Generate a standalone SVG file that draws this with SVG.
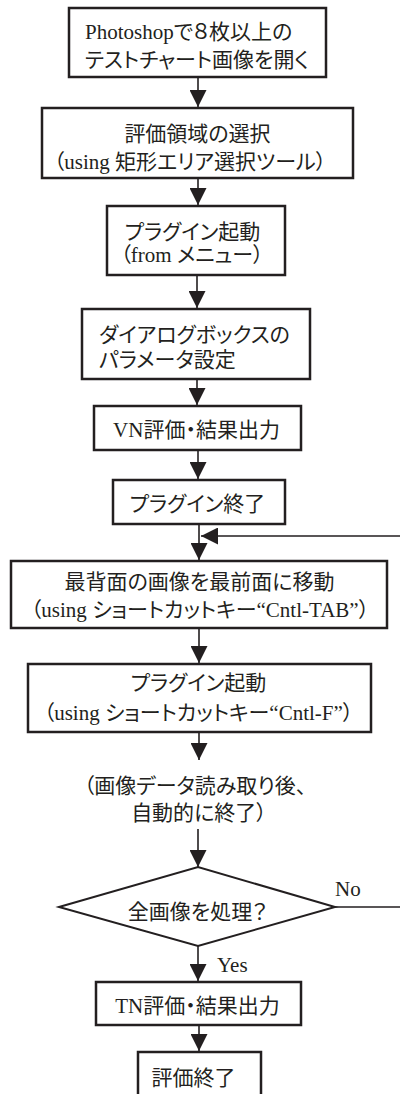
<svg xmlns="http://www.w3.org/2000/svg" width="400" height="1094" viewBox="0 0 400 1094">
<style>
.box{fill:#fff;stroke:#231f20;stroke-width:2.5}
.dia{fill:#fff;stroke:#231f20;stroke-width:2}
.con{fill:none;stroke:#231f20;stroke-width:1.6}
.t{font-family:"Liberation Serif","Noto Sans CJK JP",serif;font-size:21px;fill:#231f20;font-feature-settings:"palt" 1}
.m{text-anchor:middle}
</style>
<defs>
<marker id="ah" markerUnits="userSpaceOnUse" markerWidth="17" markerHeight="17" refX="17" refY="8.5" orient="auto">
<path d="M0,0 L17,8.5 L0,17 z" fill="#231f20"/>
</marker>
</defs>
<rect width="400" height="1094" fill="#fff"/>
<g id="connectors">
<line class="con" x1="198" y1="78" x2="198" y2="107" marker-end="url(#ah)"/>
<line class="con" x1="198" y1="179" x2="198" y2="205" marker-end="url(#ah)"/>
<line class="con" x1="197" y1="276" x2="197" y2="308" marker-end="url(#ah)"/>
<line class="con" x1="197" y1="380" x2="197" y2="405" marker-end="url(#ah)"/>
<line class="con" x1="198" y1="451" x2="198" y2="479" marker-end="url(#ah)"/>
<line class="con" x1="199" y1="525" x2="199" y2="560" marker-end="url(#ah)"/>
<line class="con" x1="199" y1="629" x2="199" y2="663" marker-end="url(#ah)"/>
<line class="con" x1="199" y1="733" x2="199" y2="760" marker-end="url(#ah)"/>
<line class="con" x1="198" y1="829" x2="198" y2="867" marker-end="url(#ah)"/>
<line class="con" x1="198" y1="946" x2="198" y2="981" marker-end="url(#ah)"/>
<line class="con" x1="199" y1="1026" x2="199" y2="1051" marker-end="url(#ah)"/>
<path class="con" d="M335,907 H403 V536 H201" marker-end="url(#ah)"/>
<text class="t" x="335" y="896">No</text>
<text class="t" x="217" y="972">Yes</text>
</g>
<g id="n1"><rect class="box" x="69" y="8" width="257" height="69"/>
<text class="t" x="85" y="39">Photoshopで８枚以上の</text>
<text class="t" x="85" y="67">テストチャート画像を開く</text></g>
<g id="n2"><rect class="box" x="42" y="108" width="311" height="70"/>
<text class="t m" x="197.5" y="141">評価領域の選択</text>
<text class="t m" x="190" y="169">（using 矩形エリア選択ツール）</text></g>
<g id="n3"><rect class="box" x="107" y="206" width="178" height="69"/>
<text class="t m" x="192.5" y="239">プラグイン起動</text>
<text class="t m" x="192" y="262">（from メニュー）</text></g>
<g id="n4"><rect class="box" x="82" y="309" width="228" height="70"/>
<text class="t" x="99" y="342">ダイアログボックスの</text>
<text class="t" x="99" y="367">パラメータ設定</text></g>
<g id="n5"><rect class="box" x="94" y="406" width="207" height="44"/>
<text class="t m" x="196.5" y="437">VN評価・結果出力</text></g>
<g id="n6"><rect class="box" x="113" y="480" width="172" height="44"/>
<text class="t m" x="197.5" y="511">プラグイン終了</text></g>
<g id="n7"><rect class="box" x="11" y="561" width="376" height="67"/>
<text class="t m" x="199.5" y="589">最背面の画像を最前面に移動</text>
<text class="t m" x="200" y="617">（using ショートカットキー“Cntl-TAB”）</text></g>
<g id="n8"><rect class="box" x="28" y="664" width="343" height="68"/>
<text class="t m" x="198.5" y="690">プラグイン起動</text>
<text class="t m" x="198.5" y="720">（using ショートカットキー“Cntl-F”）</text></g>
<g id="n9">
<text class="t m" x="195" y="793">（画像データ読み取り後、</text>
<text class="t m" x="199" y="820">自動的に終了）</text></g>
<g id="n10"><polygon class="dia" points="59,907 198,867 335,907 198,946"/>
<text class="t m" x="197.5" y="919">全画像を処理？</text></g>
<g id="n11"><rect class="box" x="96" y="982" width="205" height="43"/>
<text class="t m" x="197.5" y="1013">TN評価・結果出力</text></g>
<g id="n12"><rect class="box" x="138" y="1052" width="123" height="60"/>
<text class="t m" x="193.5" y="1085">評価終了</text></g>
</svg>
